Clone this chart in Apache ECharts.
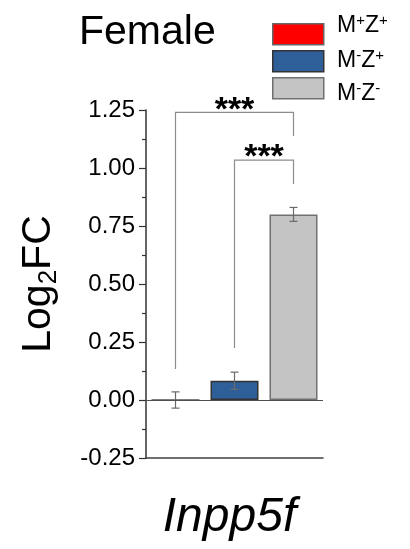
<!DOCTYPE html>
<html>
<head>
<meta charset="utf-8">
<script src="https://cdn.jsdelivr.net/npm/echarts@6/dist/echarts.min.js"></script>
<style>
  html, body { margin: 0; padding: 0; background: #fff; }
  #chart { width: 410px; height: 549px; }
</style>
</head>
<body>
<div id="chart"></div>
<script>
// Groups and their log2 fold change (mean ± error)
const groups = ['M+Z+', 'M-Z+', 'M-Z-'];
const means = [0.0, 0.083, 0.80];
const errors = [0.035, 0.037, 0.03];
const barColors = ['#ff0000', '#2f5f98', '#c4c4c4'];
const barBorders = ['#555555', '#333333', '#707070'];

// Y axis ticks
const yMin = -0.25;
const yMax = 1.25;
const yStep = 0.25;

// Significance brackets: [fromGroup, toGroup, barLevel, leftLegEnd, rightLegEnd, label]
const brackets = [
  [0, 2, 1.24, 0.134, 1.138, '***'],
  [1, 2, 1.034, 0.224, 0.931, '***']
];

const FONT = '"Liberation Sans", Arial, Helvetica, sans-serif';

const chart = echarts.init(document.getElementById('chart'), null, { renderer: 'canvas' });

const legendRich = {
  m: { fontFamily: FONT, fontSize: 23, fill: '#000', lineHeight: 26 },
  p: { fontFamily: FONT, fontSize: 15, fill: '#000', lineHeight: 26, verticalAlign: 'top', padding: [0, 0, 8, 0] }
};

const option = {
  animation: false,
  backgroundColor: '#ffffff',
  title: {
    text: 'Female',
    left: 79,
    top: 12,
    padding: 0,
    textStyle: { fontFamily: FONT, fontSize: 41, fontWeight: 'normal', color: '#000' }
  },
  grid: { left: 146, right: 87, top: 110, bottom: 91, outerBoundsMode: 'none', containLabel: false },
  xAxis: {
    type: 'category',
    data: groups,
    axisLine: { onZero: false, lineStyle: { color: '#404040', width: 1.5 } },
    axisTick: { show: false },
    axisLabel: { show: false },
    splitLine: { show: false },
    name: '{it|Inpp5f}',
    nameLocation: 'middle',
    nameGap: 36,
    nameTextStyle: {
      padding: [0, 10, 0, 0],
      rich: { it: { fontFamily: FONT, fontSize: 48, fontStyle: 'italic', color: '#000' } }
    }
  },
  yAxis: {
    type: 'value',
    min: yMin,
    max: yMax,
    interval: yStep,
    axisLine: { show: true, lineStyle: { color: '#333', width: 1.5 } },
    axisTick: { show: true, inside: false, length: 7, lineStyle: { color: '#333', width: 1.2 } },
    minorTick: { show: true, splitNumber: 2, length: 4, lineStyle: { color: '#333', width: 1.2 } },
    splitLine: { show: false },
    axisLabel: {
      margin: 11,
      fontFamily: FONT,
      fontSize: 24,
      color: '#000',
      formatter: v => v.toFixed(2)
    },
    name: '{a|Log}{s|2}{a|FC}',
    nameLocation: 'middle',
    nameRotate: 90,
    nameGap: 84,
    nameTextStyle: {
      rich: {
        a: { fontFamily: FONT, fontSize: 41, color: '#000', lineHeight: 46, verticalAlign: 'middle' },
        s: { fontFamily: FONT, fontSize: 26, color: '#000', lineHeight: 46, verticalAlign: 'bottom', padding: [15, 0, 0, 0] }
      }
    }
  },
  series: [
    {
      type: 'bar',
      barWidth: 48,
      data: means.map((v, i) => ({
        value: v,
        itemStyle: { color: barColors[i], borderColor: barBorders[i], borderWidth: 1.5 }
      })),
      markLine: {
        silent: true,
        symbol: 'none',
        label: { show: false },
        lineStyle: { color: '#505050', width: 1.2, type: 'solid' },
        data: [{ yAxis: 0 }]
      },
      z: 2
    },
    {
      type: 'custom',
      name: 'error',
      z: 3,
      data: means.map((m, i) => [i, m - errors[i], m + errors[i]]),
      renderItem: function (params, api) {
        const lo = api.coord([api.value(0), api.value(1)]);
        const hi = api.coord([api.value(0), api.value(2)]);
        const cap = 4;
        const style = { stroke: '#6a6a6a', lineWidth: 1.2, fill: null };
        return {
          type: 'group',
          children: [
            { type: 'line', shape: { x1: hi[0], y1: hi[1], x2: lo[0], y2: lo[1] }, style },
            { type: 'line', shape: { x1: hi[0] - cap, y1: hi[1], x2: hi[0] + cap, y2: hi[1] }, style },
            { type: 'line', shape: { x1: lo[0] - cap, y1: lo[1], x2: lo[0] + cap, y2: lo[1] }, style }
          ]
        };
      }
    },
    {
      type: 'custom',
      name: 'significance',
      z: 4,
      data: brackets,
      renderItem: function (params, api) {
        const a = api.value(0), b = api.value(1);
        const top = api.value(2);
        const pLeftTop = api.coord([a, top]);
        const pRightTop = api.coord([b, top]);
        const pLeftEnd = api.coord([a, api.value(3)]);
        const pRightEnd = api.coord([b, api.value(4)]);
        const label = brackets[params.dataIndex][5];
        return {
          type: 'group',
          children: [
            {
              type: 'polyline',
              shape: { points: [pLeftEnd, pLeftTop, pRightTop, pRightEnd] },
              style: { stroke: '#8c8c8c', lineWidth: 1.2, fill: null }
            },
            {
              type: 'text',
              style: {
                text: label,
                x: (pLeftTop[0] + pRightTop[0]) / 2,
                y: pLeftTop[1] - 2,
                align: 'center',
                verticalAlign: 'middle',
                font: 'bold 34px ' + FONT,
                fill: '#000'
              }
            }
          ]
        };
      }
    }
  ],
  graphic: [
    { type: 'rect', left: 272, top: 23, shape: { width: 51, height: 21 }, style: { fill: barColors[0], stroke: '#666', lineWidth: 1.5 } },
    { type: 'rect', left: 272, top: 50, shape: { width: 51, height: 21 }, style: { fill: barColors[1], stroke: '#333', lineWidth: 1.5 } },
    { type: 'rect', left: 272, top: 77, shape: { width: 51, height: 21 }, style: { fill: barColors[2], stroke: '#707070', lineWidth: 1.5 } },
    { type: 'text', x: 337, y: 26, style: { text: '{m|M}{p|+}{m|Z}{p|+}', verticalAlign: 'middle', rich: legendRich } },
    { type: 'text', x: 337, y: 61, style: { text: '{m|M}{p|-}{m|Z}{p|+}', verticalAlign: 'middle', rich: legendRich } },
    { type: 'text', x: 337, y: 94, style: { text: '{m|M}{p|-}{m|Z}{p|-}', verticalAlign: 'middle', rich: legendRich } }
  ]
};

chart.setOption(option);
</script>
</body>
</html>
